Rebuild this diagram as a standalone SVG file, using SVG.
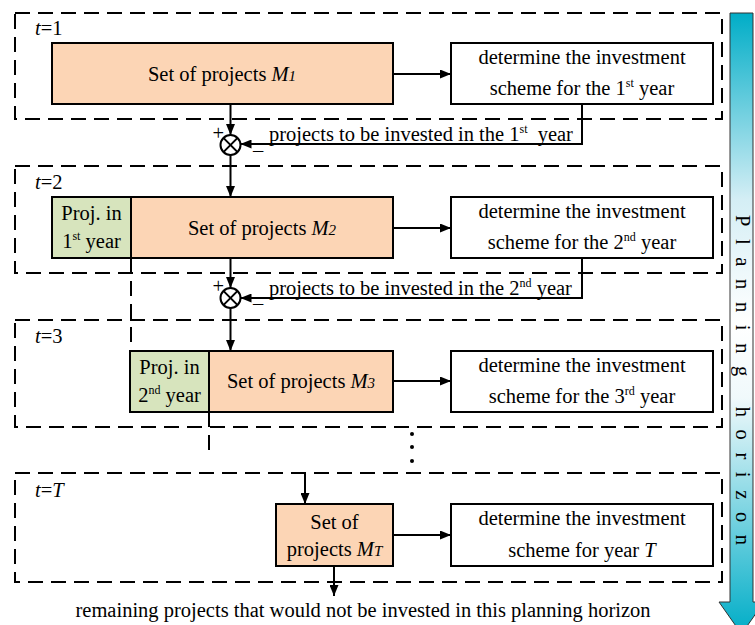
<svg xmlns="http://www.w3.org/2000/svg" width="755" height="625" viewBox="0 0 755 625" font-family="'Liberation Serif', 'Times New Roman', serif">
<style>
text{font-family:'Liberation Serif','Times New Roman',serif;font-size:20.5px;fill:#000}
.c{text-anchor:middle}
.i{font-style:italic}
.frame{fill:none;stroke:#000;stroke-width:2;stroke-dasharray:15 8}
.org{fill:#fcd5b5;stroke:#000;stroke-width:2}
.grn{fill:#d7e4bd;stroke:#000;stroke-width:2}
.wht{fill:#fff;stroke:#000;stroke-width:2}
.ln{fill:none;stroke:#000;stroke-width:2}
.arr{fill:none;stroke:#000;stroke-width:2;marker-end:url(#ah)}
.dl{fill:none;stroke:#000;stroke-width:2;stroke-dasharray:15 8}
</style>
<defs>
<marker id="ah" markerWidth="11" markerHeight="9" refX="11" refY="4.5" orient="auto" markerUnits="userSpaceOnUse"><path d="M0,0 L11,4.5 L0,9 z" fill="#000"/></marker>
<linearGradient id="ph" gradientUnits="userSpaceOnUse" x1="0" y1="13" x2="0" y2="634">
<stop offset="0" stop-color="#00adc7"/>
<stop offset="0.3" stop-color="#d4eef5"/>
<stop offset="0.5" stop-color="#ffffff"/>
<stop offset="0.62" stop-color="#f0f9fb"/>
<stop offset="1" stop-color="#00adc7"/>
</linearGradient>
</defs>

<g id="frames">
<rect class="frame" x="15" y="13" width="707" height="106"/>
<rect class="frame" x="15" y="166" width="707" height="107"/>
<rect class="frame" x="15" y="320" width="707" height="107"/>
<rect class="frame" x="15" y="473" width="707" height="109"/>
<text x="35" y="35"><tspan class="i">t</tspan>=1</text>
<text x="35" y="189"><tspan class="i">t</tspan>=2</text>
<text x="35" y="343"><tspan class="i">t</tspan>=3</text>
<text x="35" y="497"><tspan class="i">t</tspan>=<tspan class="i">T</tspan></text>
</g>

<g id="horizon">
<polygon points="730,13 753,13 753,602 764,602 741.5,634 719,602 730,602" fill="url(#ph)" stroke="#333" stroke-width="1"/>
<text transform="translate(736,380) rotate(90)" class="c" font-size="19" textLength="330" lengthAdjust="spacing">Planning horizon</text>
</g>

<g id="connectors">
<line class="arr" x1="393" y1="74" x2="451" y2="74"/>
<line class="arr" x1="230.5" y1="104" x2="230.5" y2="135"/>
<line class="arr" x1="230.5" y1="155" x2="230.5" y2="197"/>
<polyline class="arr" points="582,104 582,144 240.5,144"/>
<line class="arr" x1="393" y1="228" x2="451" y2="228"/>
<line class="arr" x1="230.5" y1="258" x2="230.5" y2="288"/>
<line class="arr" x1="230.5" y1="308" x2="230.5" y2="351"/>
<polyline class="arr" points="582,258 582,298 240.5,298"/>
<line class="arr" x1="393" y1="381" x2="451" y2="381"/>
<line class="dl" x1="131" y1="258" x2="131" y2="351"/>
<line class="dl" x1="209" y1="412" x2="209" y2="455"/>
<line class="arr" x1="305" y1="473" x2="305" y2="504"/>
<line class="arr" x1="393" y1="535" x2="451" y2="535"/>
<line class="arr" x1="334" y1="566" x2="334" y2="596"/>
<circle cx="412" cy="434" r="2" fill="#000"/>
<circle cx="412" cy="447" r="2" fill="#000"/>
<circle cx="412" cy="461" r="2" fill="#000"/>
<text x="269" y="141">projects to be invested in the 1<tspan font-size="12" dy="-8">st</tspan><tspan dy="8" dx="5"> year</tspan></text>
<text x="269" y="295">projects to be invested in the 2<tspan font-size="12" dy="-8">nd</tspan><tspan dy="8"> year</tspan></text>
<text x="363" y="617" class="c">remaining projects that would not be invested in this planning horizon</text>
</g>

<g id="sum1">
<circle cx="230.5" cy="145" r="10" fill="#fff" stroke="#000" stroke-width="2"/>
<line class="ln" x1="223.4" y1="137.9" x2="237.6" y2="152.1"/>
<line class="ln" x1="237.6" y1="137.9" x2="223.4" y2="152.1"/>
<text x="212.5" y="139.5" font-size="20">+</text>
<text x="253" y="157" font-size="20">–</text>
</g>
<g id="sum2">
<circle cx="230.5" cy="298" r="10" fill="#fff" stroke="#000" stroke-width="2"/>
<line class="ln" x1="223.4" y1="290.9" x2="237.6" y2="305.1"/>
<line class="ln" x1="237.6" y1="290.9" x2="223.4" y2="305.1"/>
<text x="212.5" y="292.5" font-size="20">+</text>
<text x="253" y="310" font-size="20">–</text>
</g>

<g id="M1">
<rect class="org" x="52" y="43" width="341" height="61"/>
<text x="222" y="81" class="c">Set of projects <tspan class="i">M</tspan><tspan class="i" font-size="15">1</tspan></text>
</g>
<g id="W1">
<rect class="wht" x="451" y="43" width="262" height="61"/>
<text x="582" y="64" class="c">determine the investment</text>
<text x="582" y="95" class="c">scheme for the 1<tspan font-size="12" dy="-8">st</tspan><tspan dy="8"> year</tspan></text>
</g>

<g id="P1">
<rect class="grn" x="52" y="197" width="79" height="61"/>
<text x="91.5" y="220" class="c">Proj. in</text>
<text x="91.5" y="248" class="c">1<tspan font-size="12" dy="-8">st</tspan><tspan dy="8"> year</tspan></text>
</g>
<g id="M2">
<rect class="org" x="131" y="197" width="262" height="61"/>
<text x="262" y="235" class="c">Set of projects <tspan class="i">M</tspan><tspan class="i" font-size="15">2</tspan></text>
</g>
<g id="W2">
<rect class="wht" x="451" y="197" width="262" height="61"/>
<text x="582" y="218" class="c">determine the investment</text>
<text x="582" y="249" class="c">scheme for the 2<tspan font-size="12" dy="-8">nd</tspan><tspan dy="8"> year</tspan></text>
</g>

<g id="P2">
<rect class="grn" x="130" y="351" width="79" height="61"/>
<text x="169.5" y="374" class="c">Proj. in</text>
<text x="169.5" y="402" class="c">2<tspan font-size="12" dy="-8">nd</tspan><tspan dy="8"> year</tspan></text>
</g>
<g id="M3">
<rect class="org" x="209" y="351" width="184" height="61"/>
<text x="301" y="388" class="c">Set of projects <tspan class="i">M</tspan><tspan class="i" font-size="15">3</tspan></text>
</g>
<g id="W3">
<rect class="wht" x="451" y="351" width="262" height="61"/>
<text x="582" y="372" class="c">determine the investment</text>
<text x="582" y="403" class="c">scheme for the 3<tspan font-size="12" dy="-8">rd</tspan><tspan dy="8"> year</tspan></text>
</g>

<g id="MT">
<rect class="org" x="276" y="504" width="117" height="62"/>
<text x="334.5" y="529" class="c">Set of</text>
<text x="334.5" y="556" class="c">projects <tspan class="i">M</tspan><tspan class="i" font-size="15">T</tspan></text>
</g>
<g id="WT">
<rect class="wht" x="451" y="504" width="262" height="62"/>
<text x="582" y="525" class="c">determine the investment</text>
<text x="582" y="557" class="c">scheme for year <tspan class="i">T</tspan></text>
</g>
</svg>
